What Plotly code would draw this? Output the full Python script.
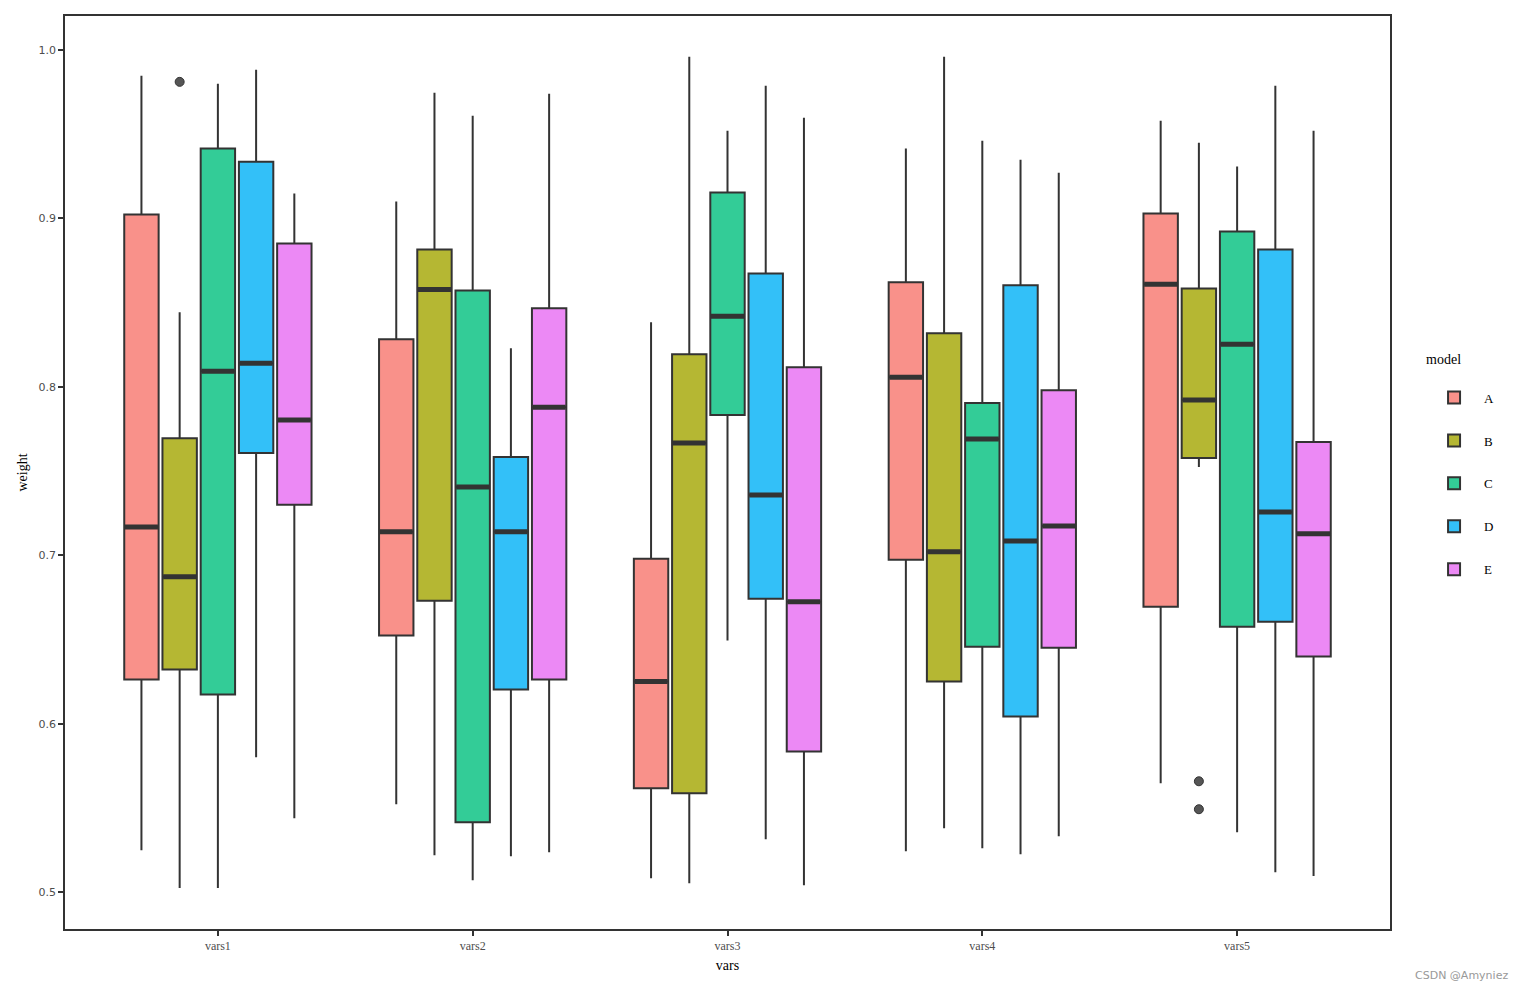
import plotly.graph_objects as go

categories = ["vars1", "vars2", "vars3", "vars4", "vars5"]
models = ["A", "B", "C", "D", "E"]
colors = ["#F9918A", "#B5B733", "#33CC97", "#33C0F8", "#EC89F5"]

# per model: values for vars1..vars5
lower = {
    "A": [0.5249, 0.5521, 0.5083, 0.5243, 0.5646],
    "B": [0.5024, 0.5219, 0.5053, 0.5379, 0.7524],
    "C": [0.5024, 0.5071, 0.6493, 0.5261, 0.5355],
    "D": [0.5800, 0.5213, 0.5314, 0.5225, 0.5118],
    "E": [0.5438, 0.5237, 0.5041, 0.5332, 0.5095],
}
q1 = {
    "A": [0.6262, 0.6523, 0.5616, 0.6973, 0.6694],
    "B": [0.6321, 0.6730, 0.5587, 0.6250, 0.7577],
    "C": [0.6173, 0.5415, 0.7832, 0.6457, 0.6576],
    "D": [0.7607, 0.6203, 0.6742, 0.6043, 0.6605],
    "E": [0.7299, 0.6262, 0.5835, 0.6451, 0.6398],
}
median = {
    "A": [0.7168, 0.7139, 0.6250, 0.8057, 0.8608],
    "B": [0.6872, 0.8578, 0.7666, 0.7020, 0.7921],
    "C": [0.8092, 0.7405, 0.8418, 0.7690, 0.8252],
    "D": [0.8140, 0.7139, 0.7358, 0.7085, 0.7257],
    "E": [0.7802, 0.7879, 0.6724, 0.7174, 0.7127],
}
q3 = {
    "A": [0.9023, 0.8282, 0.6979, 0.8620, 0.9028],
    "B": [0.7695, 0.8815, 0.8193, 0.8318, 0.8584],
    "C": [0.9414, 0.8572, 0.9153, 0.7903, 0.8922],
    "D": [0.9336, 0.7583, 0.8673, 0.8602, 0.8815],
    "E": [0.8851, 0.8466, 0.8116, 0.7980, 0.7672],
}
upper = {
    "A": [0.9846, 0.9100, 0.8383, 0.9414, 0.9579],
    "B": [0.8442, 0.9745, 0.9959, 0.9959, 0.9449],
    "C": [0.9799, 0.9609, 0.9520, 0.9461, 0.9307],
    "D": [0.9882, 0.8229, 0.9787, 0.9348, 0.9787],
    "E": [0.9147, 0.9739, 0.9597, 0.9271, 0.9520],
}
# outliers: (model, category, value)
outlier_model = ["B", "B", "B"]
outlier_cat = ["vars1", "vars5", "vars5"]
outlier_val = [0.9810, 0.5658, 0.5492]

dodge = 0.75
n = len(models)
step = dodge / n
box_w = step * 0.9

def pos(ci, mi):
    return ci + (mi - (n - 1) / 2) * step

fig = go.Figure()
for mi, m in enumerate(models):
    xs = [pos(ci, mi) for ci in range(len(categories))]
    fig.add_trace(go.Box(
        x=xs, q1=q1[m], median=median[m], q3=q3[m],
        lowerfence=lower[m], upperfence=upper[m],
        name=m, fillcolor=colors[mi],
        line=dict(color="#333333", width=2),
        width=box_w, whiskerwidth=0, boxpoints=False,
        legendgroup=m, showlegend=True,
    ))
    # thicker median line
    fig.add_trace(go.Box(
        x=xs, q1=median[m], median=median[m], q3=median[m],
        lowerfence=median[m], upperfence=median[m],
        name=m, fillcolor="rgba(0,0,0,0)",
        line=dict(color="#333333", width=5),
        width=box_w * 0.96, whiskerwidth=0, boxpoints=False,
        legendgroup=m, showlegend=False, hoverinfo="skip",
    ))

ox = [pos(categories.index(c), models.index(m)) for m, c in zip(outlier_model, outlier_cat)]
fig.add_trace(go.Scatter(
    x=ox, y=outlier_val, mode="markers",
    marker=dict(color="#555555", size=9, line=dict(width=1, color="#333333")),
    showlegend=False, hoverinfo="skip",
))

serif = "Liberation Serif, Times New Roman, serif"
sans = "DejaVu Sans, sans-serif"

fig.update_layout(
    width=1510, height=975,
    margin=dict(l=57, r=128, t=6, b=54),
    plot_bgcolor="white", paper_bgcolor="white",
    boxmode="overlay",
    legend=dict(
        title=dict(text="model<br>&nbsp;", font=dict(family=serif, size=14, color="#000")),
        font=dict(family=serif, size=13, color="#000"),
        x=1.0257, xanchor="left", y=0.508, yanchor="middle",
        tracegroupgap=23, itemwidth=50,
    ),
    xaxis=dict(
        range=[-0.6, 4.6],
        tickmode="array", tickvals=list(range(len(categories))), ticktext=categories,
        showline=True, linecolor="#333333", linewidth=2, mirror=True,
        ticks="outside", ticklen=5, tickcolor="#333333", tickwidth=2,
        tickfont=dict(family=serif, size=12, color="#4D4D4D"),
        showgrid=False, zeroline=False,
        title=dict(text="vars", font=dict(family=serif, size=14, color="#000"), standoff=8),
    ),
    yaxis=dict(
        range=[0.4781, 1.0201],
        tickvals=[0.5, 0.6, 0.7, 0.8, 0.9, 1.0], tickformat=".1f",
        showline=True, linecolor="#333333", linewidth=1.5, mirror=True,
        ticks="outside", ticklen=5, tickcolor="#333333", tickwidth=2,
        tickfont=dict(family=sans, size=11, color="#4D4D4D"),
        showgrid=False, zeroline=False,
        title=dict(text="weight", font=dict(family=serif, size=14, color="#000"), standoff=8),
    ),
)
fig.add_annotation(
    text="CSDN @Amyniez", xref="paper", yref="paper",
    x=1.0, xanchor="right", y=0, yanchor="top",
    xshift=120, yshift=-38, showarrow=False,
    font=dict(family=sans, size=11, color="#999999"),
)

fig.write_html("out.html")
